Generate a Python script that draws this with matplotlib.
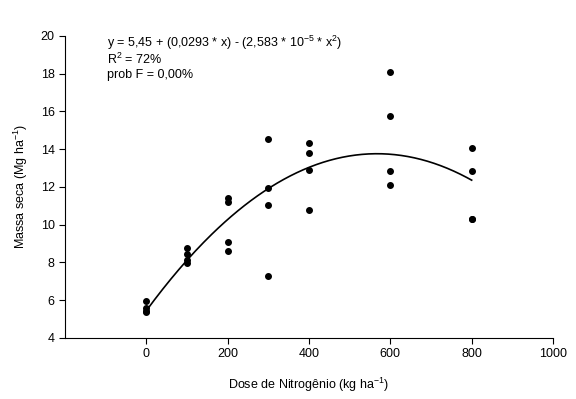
import numpy as np
import matplotlib
matplotlib.use("Agg")
import matplotlib.pyplot as plt

plt.rcParams["font.family"] = ["Liberation Sans", "DejaVu Sans"]
plt.rcParams["mathtext.fontset"] = "custom"
plt.rcParams["mathtext.rm"] = "Liberation Sans"
plt.rcParams["mathtext.it"] = "Liberation Sans"

# observed data (dose of N, dry mass)
dose = [0, 0, 0, 0,
        100, 100, 100, 100,
        200, 200, 200, 200,
        300, 300, 300, 300,
        400, 400, 400, 400,
        600, 600, 600, 600,
        800, 800, 800, 800]
massa = [5.96, 5.59, 5.45, 5.38,
         8.79, 8.43, 8.13, 7.96,
         11.43, 11.19, 9.09, 8.61,
         14.53, 11.96, 11.05, 7.27,
         14.31, 13.82, 12.92, 10.80,
         18.11, 15.78, 12.83, 12.11,
         14.07, 12.83, 10.32, 10.28]

# quadratic fit coefficients
b0, b1, b2 = 5.45, 0.0293, -2.583e-5

fs = 9

fig = plt.figure(figsize=(5.76, 3.99), dpi=100)
ax = fig.add_axes([0.113, 0.153, 0.847, 0.757])

ax.scatter(dose, massa, s=16, color="black", zorder=3)

xf = np.linspace(0, 800, 200)
ax.plot(xf, b0 + b1 * xf + b2 * xf ** 2, color="black", lw=1.2)

ax.set_xlim(-200, 1000)
ax.set_ylim(4, 20)
ax.set_xticks(range(0, 1001, 200))
ax.set_yticks(range(4, 21, 2))
ax.spines["top"].set_visible(False)
ax.spines["right"].set_visible(False)
ax.tick_params(direction="out", length=4, width=0.8, labelsize=fs)

ax.set_xlabel("Dose de Nitrogênio (kg ha$^{-1}$)", fontsize=fs, labelpad=11)
ax.set_ylabel("Massa seca (Mg ha$^{-1}$)", fontsize=fs, labelpad=8)

ax.text(0.086, 0.962, "y = 5,45 + (0,0293 * x) - (2,583 * 10$^{-5}$ * x$^{2}$)",
        transform=ax.transAxes, fontsize=fs, va="baseline")
ax.text(0.086, 0.907, "R$^{2}$ = 72%", transform=ax.transAxes, fontsize=fs, va="baseline")
ax.text(0.086, 0.861, "prob F = 0,00%", transform=ax.transAxes, fontsize=fs, va="baseline")

fig.savefig("out.png", dpi=100)
